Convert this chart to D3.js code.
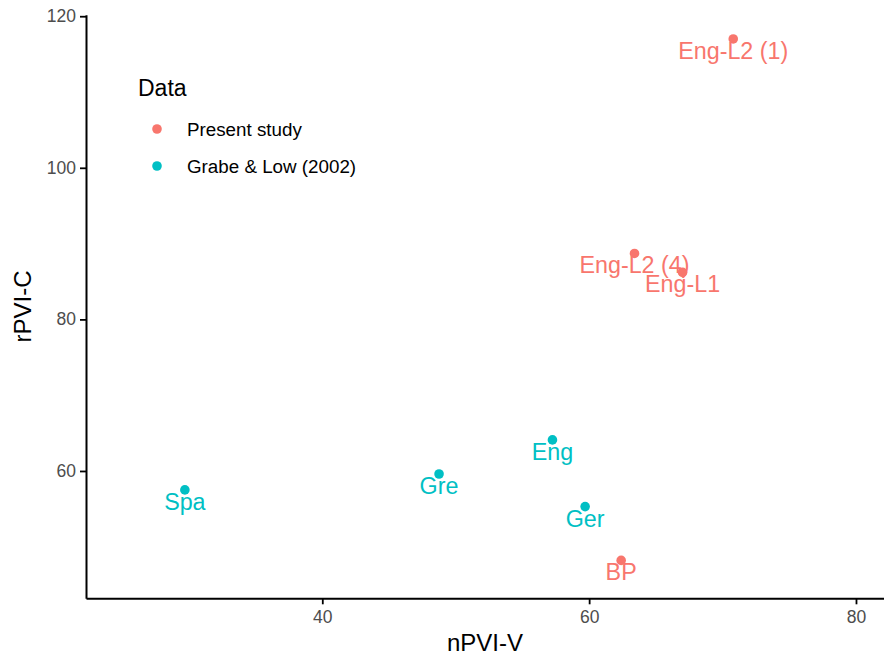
<!DOCTYPE html>
<html>
<head>
<meta charset="utf-8">
<script src="https://cdn.jsdelivr.net/npm/d3@7"></script>
<style>
  body { margin: 0; background: #fff; }
  svg { display: block; font-family: "Liberation Sans", Arial, sans-serif; }
</style>
</head>
<body>
<div id="chart"></div>
<script>
// data
const labels = ["Eng-L2 (1)", "Eng-L2 (4)", "Eng-L1", "BP", "Spa", "Gre", "Eng", "Ger"];
const npviV = [70.8, 63.4, 67.0, 62.4, 29.7, 48.75, 57.25, 59.7];
const rpviC = [117.0, 88.7, 86.2, 48.2, 57.5, 59.6, 64.1, 55.3];
const source = ["Present study", "Present study", "Present study", "Present study",
                "Grabe & Low (2002)", "Grabe & Low (2002)", "Grabe & Low (2002)", "Grabe & Low (2002)"];
const groups = ["Present study", "Grabe & Low (2002)"];
const xTicks = [40, 60, 80];
const yTicks = [60, 80, 100, 120];

const W = 884, H = 655;
const m = { left: 86, right: 0, top: 14.7, bottom: 56.7 };

const svg = d3.select("#chart").append("svg")
    .attr("width", W)
    .attr("height", H);

const x = d3.scaleLinear().domain([22.29, 82.1]).range([m.left, W - m.right]);
const y = d3.scaleLinear().domain([43.2, 120.2]).range([H - m.bottom, m.top]);
const colour = d3.scaleOrdinal().domain(groups).range(["#F8766D", "#00BFC4"]);

// axes
let xAxis = svg.append("g")
    .attr("transform", "translate(0," + (H - m.bottom) + ")")
    .call(d3.axisBottom(x).tickValues(xTicks).tickSize(6).tickPadding(6).tickSizeOuter(0));
let yAxis = svg.append("g")
    .attr("transform", "translate(" + m.left + ",0)")
    .call(d3.axisLeft(y).tickValues(yTicks).tickSize(6).tickPadding(4).tickSizeOuter(0));

[xAxis, yAxis].forEach(g => {
    g.select(".domain").attr("stroke", "#000").attr("stroke-width", 2);
    g.selectAll(".tick line").attr("stroke", "#000").attr("stroke-width", 1.8);
    g.selectAll(".tick text").attr("fill", "#4d4d4d").style("font-size", "17.5px");
});

// axis titles
svg.append("text")
    .attr("x", (m.left + W - m.right) / 2)
    .attr("y", 651)
    .attr("text-anchor", "middle")
    .style("font-size", "24px")
    .text("nPVI-V");

svg.append("text")
    .attr("transform", "translate(31," + ((m.top + H - m.bottom) / 2) + ") rotate(-90)")
    .attr("text-anchor", "middle")
    .style("font-size", "24px")
    .text("rPVI-C");

// points
const idx = d3.range(labels.length);
svg.append("g").selectAll("circle")
    .data(idx)
    .join("circle")
    .attr("cx", i => x(npviV[i]))
    .attr("cy", i => y(rpviC[i]))
    .attr("r", 4.8)
    .attr("fill", i => colour(source[i]));

svg.append("g").selectAll("text")
    .data(idx)
    .join("text")
    .attr("x", i => x(npviV[i]))
    .attr("y", i => y(rpviC[i]) + 20)
    .attr("text-anchor", "middle")
    .attr("fill", i => colour(source[i]))
    .style("font-size", "23.3px")
    .text(i => labels[i]);

// legend
let legend = svg.append("g");
legend.append("text")
    .attr("x", 138)
    .attr("y", 96)
    .style("font-size", "23px")
    .text("Data");

let items = legend.selectAll("g.item")
    .data(groups)
    .join("g")
    .attr("class", "item")
    .attr("transform", (d, i) => "translate(0," + (129 + i * 37) + ")");
items.append("circle")
    .attr("cx", 157)
    .attr("cy", 0)
    .attr("r", 4.8)
    .attr("fill", d => colour(d));
items.append("text")
    .attr("x", 187)
    .attr("y", 7)
    .style("font-size", "18.8px")
    .text(d => d);
</script>
</body>
</html>
